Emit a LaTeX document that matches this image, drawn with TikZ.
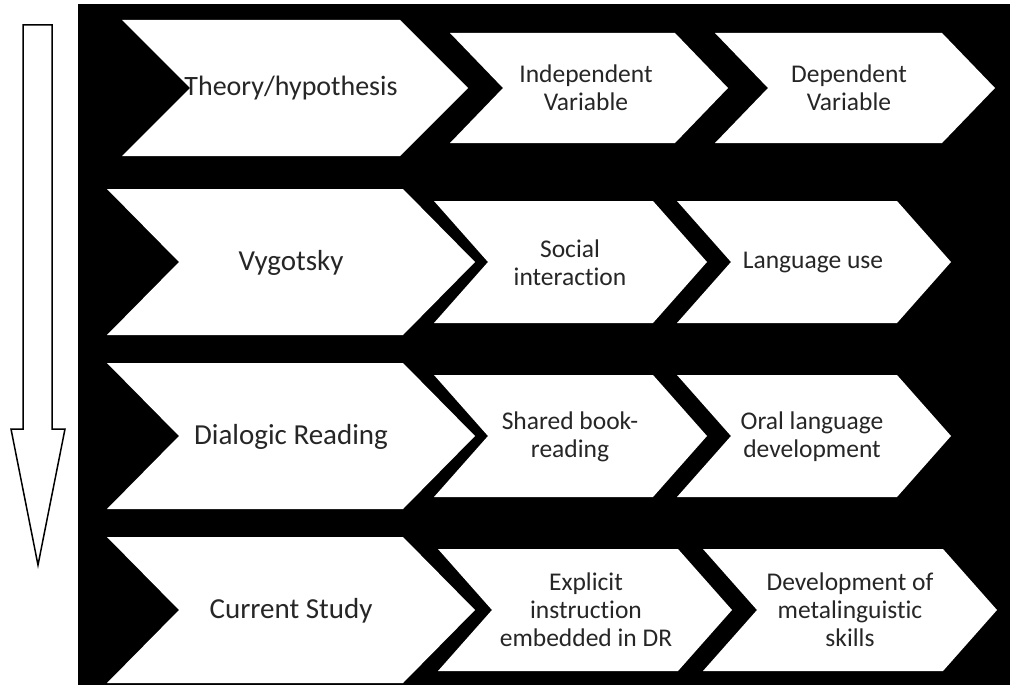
\documentclass[tikz,border=0pt]{standalone}
\usepackage{fontspec}
\setmainfont{Carlito}[Ligatures=NoCommon]
\tikzset{chev/.style={fill=white, draw=none},
  lbl/.style={text=black!85, align=center, inner sep=0pt, font=\fontsize{29}{34}\selectfont},
  slbl/.style={lbl, font=\fontsize{25.5}{28}\selectfont}}

\begin{document}
\begin{tikzpicture}[x=1pt,y=-1pt]
  \useasboundingbox (0,0) rectangle (1010,685);
  \fill[black] (78,4) rectangle (1010,685);
  % down arrow on the left
  \draw[line width=1.5pt, fill=white, line join=miter] (23,25) -- (52,25) -- (52,429) -- (65,429) -- (38,565) -- (11,429) -- (23,429) -- cycle;
  % chevrons: left, right, centre, half height, depth
  \foreach \l/\r/\c/\h/\d in {122/400/88/68/68, 107/403/262/73/72, 107/403/436/73/72, 107/403/610/73/72,
      450/675/88/55/53, 715/942/88/55/53,
      434/653/262/61/54, 677/897/262/61/54,
      434/653/436/61/54, 677/897/436/61/54,
      438/678/610/61/54, 703/943/610/61/54}
    \fill[chev] (\l,\c-\h) -- (\r,\c-\h) -- (\r+\d,\c) -- (\r,\c+\h) -- (\l,\c+\h) -- (\l+\d,\c) -- cycle;
  \node[lbl, font=\fontsize{28}{33}\selectfont] (theory) at (291,88) {Theory/hypothesis};
  \node[slbl] (indep) at (586,88) {Independent\\Variable};
  \node[slbl] (dep) at (849,88) {Dependent\\Variable};
  \node[lbl] (vygotsky) at (291,263) {Vygotsky};
  \node[slbl] (social) at (570,263) {Social\\interaction};
  \node[slbl] (languse) at (813,263) {Language use};
  \node[lbl] (dialogic) at (291,437) {Dialogic Reading};
  \node[slbl] (shared) at (570,437) {Shared book-\\reading};
  \node[slbl] (oral) at (812,437) {Oral language\\development};
  \node[lbl] (study) at (291,611) {Current Study};
  \node[slbl] (explicit) at (586,610) {Explicit\\instruction\\embedded in DR};
  \node[slbl] (metaling) at (850,610) {Development of\\metalinguistic\\skills};
\end{tikzpicture}
\end{document}
